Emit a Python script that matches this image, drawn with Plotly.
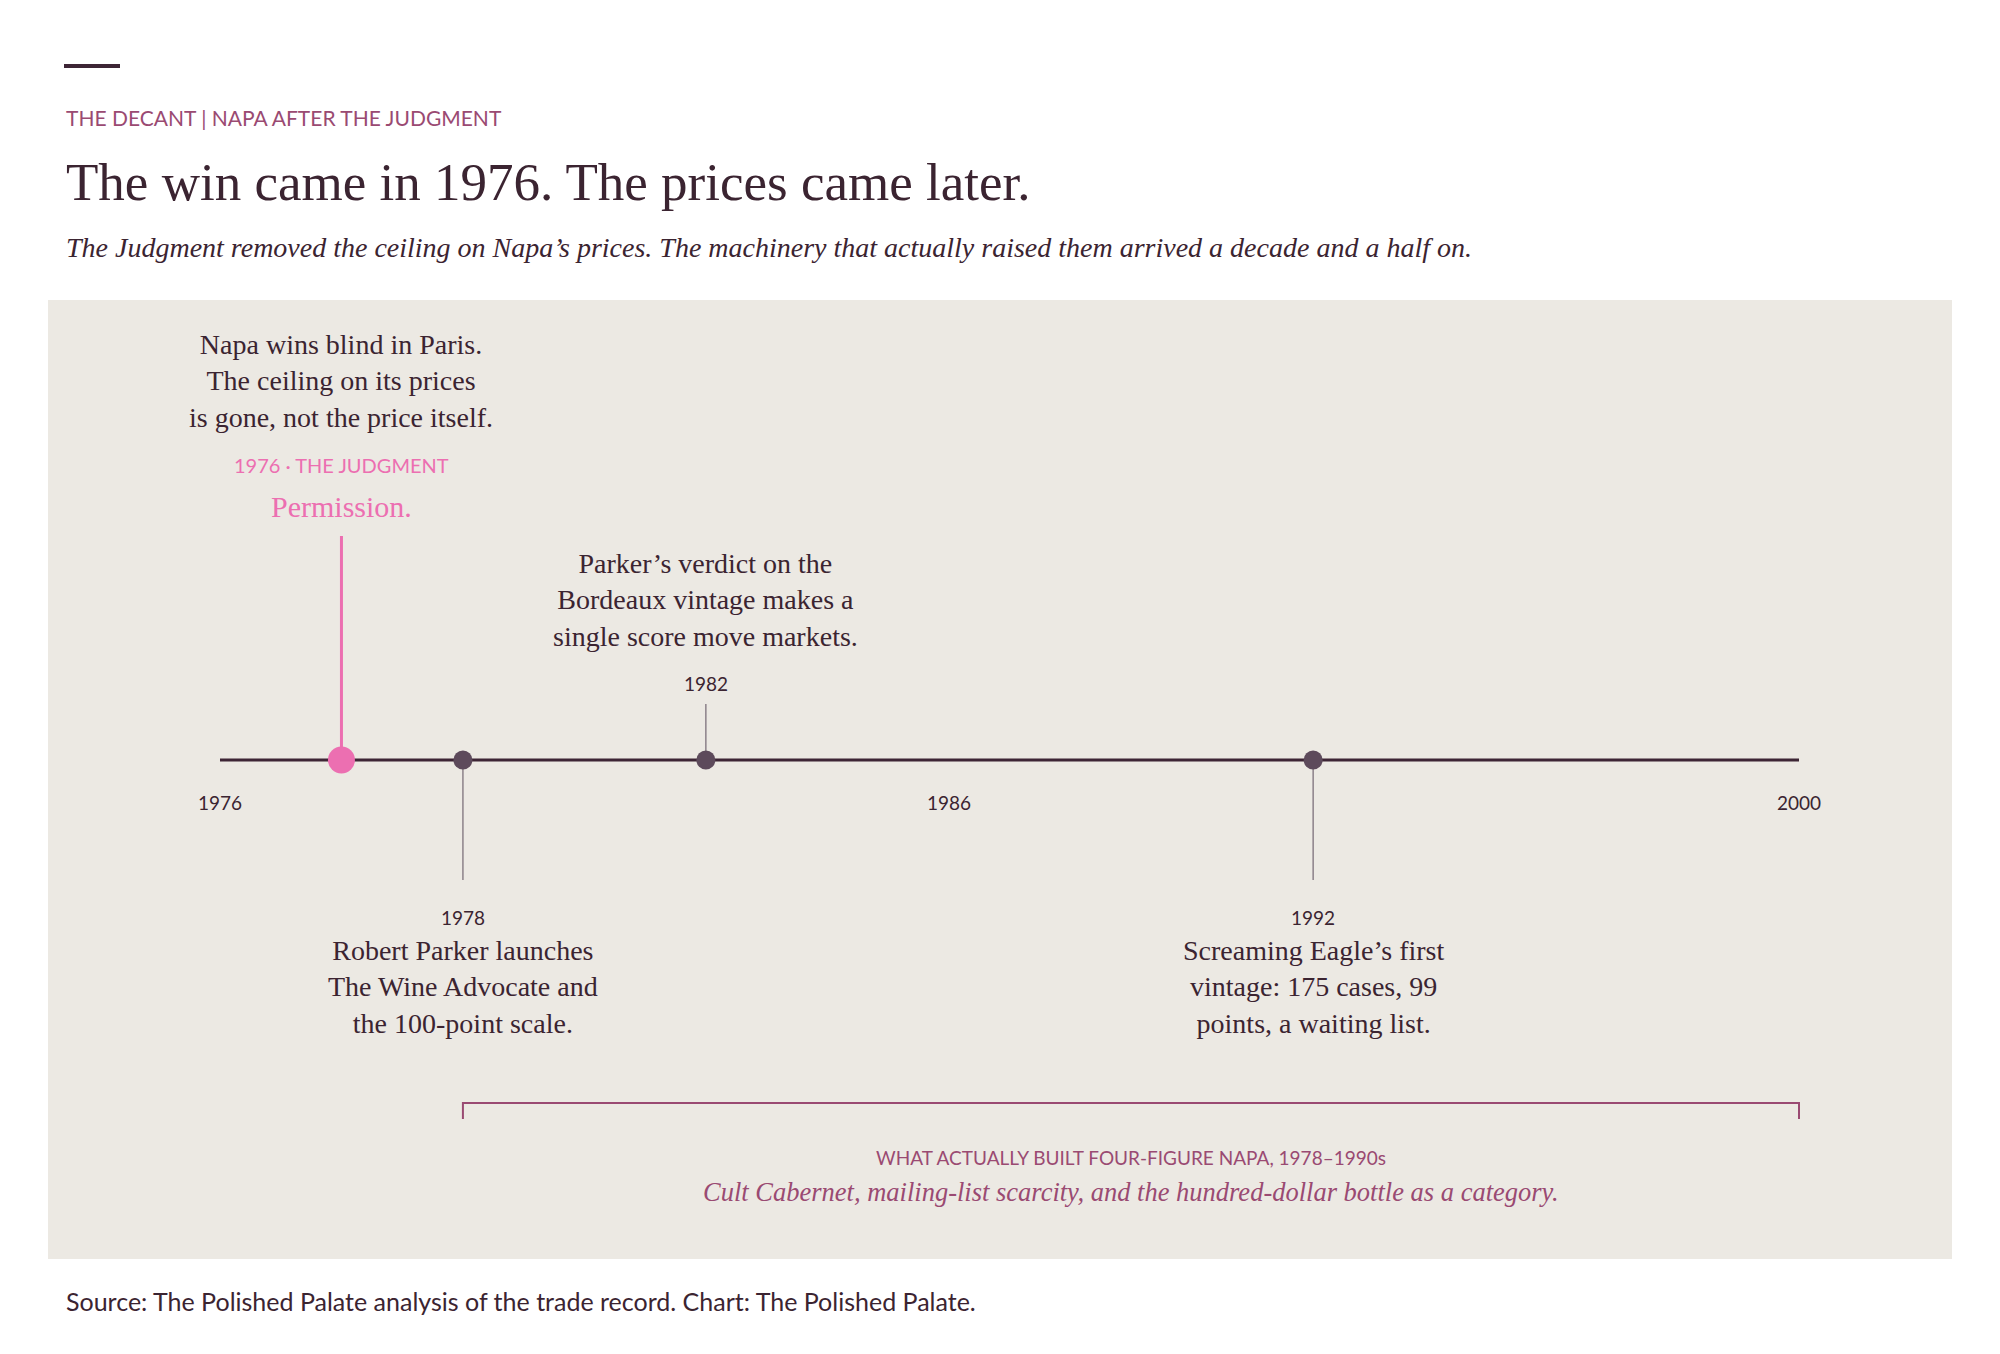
import plotly.graph_objects as go

# timeline data
axis_years = [1974, 2000]
tick_years = [1974, 1986, 2000]
tick_labels = ["1976", "1986", "2000"]

event_years = [1976, 1978, 1982, 1992]
event_sides = ["above", "below", "above", "below"]
event_year_labels = ["1976 · THE JUDGMENT", "1978", "1982", "1992"]
event_texts = [
    "Napa wins blind in Paris.<br>The ceiling on its prices<br>is gone, not the price itself.",
    "Robert Parker launches<br>The Wine Advocate and<br>the 100-point scale.",
    "Parker’s verdict on the<br>Bordeaux vintage makes a<br>single score move markets.",
    "Screaming Eagle’s first<br>vintage: 175 cases, 99<br>points, a waiting list.",
]
highlight_year = 1976
highlight_word = "Permission."

bracket_years = [1978, 2000]
bracket_label = "WHAT ACTUALLY BUILT FOUR-FIGURE NAPA, 1978–1990s"
bracket_note = "Cult Cabernet, mailing-list scarcity, and the hundred-dollar bottle as a category."

kicker = "THE DECANT | NAPA AFTER THE JUDGMENT"
title = "The win came in 1976. The prices came later."
subtitle = ("The Judgment removed the ceiling on Napa’s prices. The machinery that "
            "actually raised them arrived a decade and a half on.")
source = "Source: The Polished Palate analysis of the trade record. Chart: The Polished Palate."

# look (page has an 8px body margin, so positions are shifted by it)
OFF = 8
W, H = 2000 - OFF, 1354 - OFF
SERIF = "Liberation Serif"
SANS = "Lato"
INK = "#3b2431"
MAUVE = "#9a4a72"
PINK = "#ec6fb1"
DOT = "#5d4a5b"
STEM = "#8c8189"
PANEL = "#ece9e3"


def py(v):
    return v - OFF


def px(v):
    return (v - OFF) / W


AXIS_Y = py(760)
ax_left, ax_right = 220 - OFF, 1799 - OFF
ppy = (ax_right - ax_left) / (axis_years[1] - axis_years[0])
x_range = [axis_years[0] - ax_left / ppy, axis_years[0] + (W - ax_left) / ppy]

fig = go.Figure()

# main axis line
fig.add_trace(go.Scatter(x=axis_years, y=[AXIS_Y, AXIS_Y], mode="lines",
                         line=dict(color="#3d2535", width=3), hoverinfo="skip"))

annotations = []


def add_text(x, y, text, size, color, family=SANS, xref="x", xanchor="center", italic=False):
    if italic:
        text = "<i>" + text + "</i>"
    annotations.append(dict(x=x, y=py(y), xref=xref, yref="y", text=text, showarrow=False,
                            xanchor=xanchor, yanchor="middle", align="center",
                            font=dict(family=family, size=size, color=color)))


for yr, side, ylab, txt in zip(event_years, event_sides, event_year_labels, event_texts):
    hl = yr == highlight_year
    if hl:
        stem_end = 536
    elif side == "above":
        stem_end = 704
    else:
        stem_end = 880
    fig.add_trace(go.Scatter(x=[yr, yr], y=[AXIS_Y, py(stem_end)], mode="lines",
                             line=dict(color=PINK if hl else STEM, width=3 if hl else 1.5),
                             hoverinfo="skip"))
    if hl:
        add_text(yr, 381, txt, 28, INK, SERIF)
        add_text(yr, 465, ylab, 20, PINK, SANS)
        add_text(yr, 506, highlight_word, 30, PINK, SERIF)
    elif side == "above":
        add_text(yr, 600, txt, 28, INK, SERIF)
        add_text(yr, 683, ylab, 19, INK, SANS)
    else:
        add_text(yr, 917, ylab, 19, INK, SANS)
        add_text(yr, 987, txt, 28, INK, SERIF)

# dots
fig.add_trace(go.Scatter(
    x=event_years, y=[AXIS_Y] * len(event_years), mode="markers",
    marker=dict(size=[27 if y == highlight_year else 19 for y in event_years],
                color=[PINK if y == highlight_year else DOT for y in event_years],
                opacity=1, line=dict(width=0)),
    hoverinfo="skip"))

# ticks
for tx, tl in zip(tick_years, tick_labels):
    add_text(tx, 802, tl, 19, INK, SANS)

# bracket
fig.add_trace(go.Scatter(
    x=[bracket_years[0], bracket_years[0], bracket_years[1], bracket_years[1]],
    y=[py(1119), py(1103), py(1103), py(1119)], mode="lines",
    line=dict(color=MAUVE, width=2), hoverinfo="skip"))
mid = sum(bracket_years) / 2
add_text(mid, 1157, bracket_label, 19, MAUVE, SANS)
add_text(mid, 1192, bracket_note, 26.5, MAUVE, SERIF, italic=True)

# header and footer
add_text(px(64), 117, kicker, 21, MAUVE, SANS, xref="paper", xanchor="left")
add_text(px(64), 182, title, 53, INK, SERIF, xref="paper", xanchor="left")
add_text(px(64), 247, subtitle, 28, INK, SERIF, xref="paper", xanchor="left", italic=True)
add_text(px(64), 1301, source, 25, INK, SANS, xref="paper", xanchor="left")

shapes = [
    dict(type="rect", xref="paper", yref="y", x0=px(48), x1=px(1952), y0=py(300), y1=py(1259),
         fillcolor=PANEL, line=dict(width=0), layer="below"),
    dict(type="line", xref="paper", yref="y", x0=px(64), x1=px(120), y0=py(66), y1=py(66),
         line=dict(color="#3d2535", width=4)),
]

fig.update_layout(
    width=W, height=H, margin=dict(l=0, r=0, t=0, b=0),
    paper_bgcolor="white", plot_bgcolor="rgba(0,0,0,0)",
    showlegend=False, hovermode=False,
    xaxis=dict(range=x_range, visible=False, fixedrange=True),
    yaxis=dict(range=[H, 0], visible=False, fixedrange=True),
    annotations=annotations, shapes=shapes,
)

fig.write_html("out.html")
